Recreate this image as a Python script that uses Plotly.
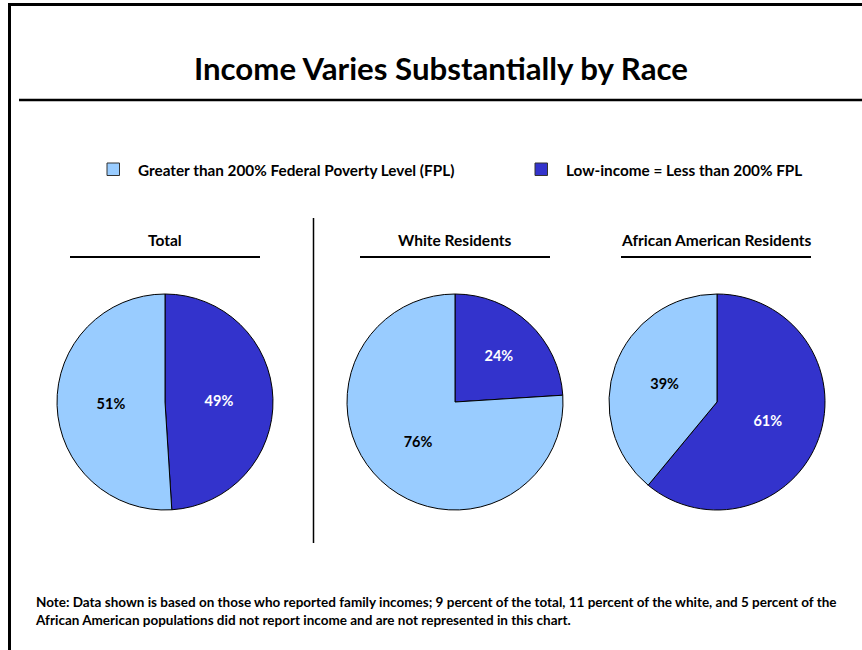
import plotly.graph_objects as go

# Share of residents by income group (percent)
groups = ["Total", "White Residents", "African American Residents"]
categories = ["Low-income = Less than 200% FPL", "Greater than 200% Federal Poverty Level (FPL)"]
low_income = [49, 24, 61]
above_200 = [51, 76, 39]

colors = ["#3333CC", "#99CCFF"]
text_colors = ["white", "black"]
FONT = "Lato"

W, H = 862, 650
centers_x = [165, 455, 717]
center_y = 402
radius = 108


def px_x(v):
    return v / W


def px_y(v):
    return 1 - v / H


fig = go.Figure()
for i, g in enumerate(groups):
    cx = centers_x[i]
    fig.add_trace(go.Pie(
        labels=categories,
        values=[low_income[i], above_200[i]],
        name=g,
        sort=False,
        direction="clockwise",
        rotation=0,
        marker=dict(colors=colors, line=dict(color="black", width=1)),
        texttemplate="%{value}%",
        textposition="inside",
        insidetextorientation="horizontal",
        textfont=dict(family=FONT, size=14.5, color=text_colors, weight="bold"),
        hoverinfo="label+value",
        domain=dict(x=[px_x(cx - radius), px_x(cx + radius)],
                    y=[px_y(center_y + radius), px_y(center_y - radius)]),
        showlegend=False,
    ))

shapes = [
    # frame
    dict(type="line", x0=px_x(9.5), x1=px_x(9.5), y0=px_y(3), y1=px_y(650),
         line=dict(color="black", width=3)),
    dict(type="line", x0=px_x(8), x1=1, y0=px_y(4.5), y1=px_y(4.5),
         line=dict(color="black", width=3)),
    # title rule
    dict(type="line", x0=px_x(19), x1=1, y0=px_y(100), y1=px_y(100),
         line=dict(color="black", width=2.5)),
    # divider between total and subgroups
    dict(type="line", x0=px_x(313.5), x1=px_x(313.5), y0=px_y(218), y1=px_y(543),
         line=dict(color="black", width=1.5)),
]

annotations = [
    dict(text="<b>Income Varies Substantially by Race</b>", x=px_x(441), y=px_y(68),
         xref="paper", yref="paper", showarrow=False, xanchor="center", yanchor="middle",
         font=dict(family=FONT, size=31.2, color="black")),
    dict(text="<b>Note: Data shown is based on those who reported family incomes; 9 percent of the total, "
              "11 percent of the white, and 5 percent of the<br>African American populations did not report "
              "income and are not represented in this chart.</b>",
         x=px_x(33), y=px_y(611), xref="paper", yref="paper", showarrow=False,
         xanchor="left", yanchor="middle", align="left",
         font=dict(family=FONT, size=13.5, color="black")),
]

# legend keys, ordered as in the header row
legend_items = [(categories[1], colors[1], 107), (categories[0], colors[0], 535)]
for label, col, x0 in legend_items:
    shapes.append(dict(type="rect", x0=px_x(x0), x1=px_x(x0 + 12.5),
                       y0=px_y(175.5), y1=px_y(163), fillcolor=col,
                       line=dict(color="#333333", width=1)))
    annotations.append(dict(text="<b>" + label + "</b>", x=px_x(x0 + 29), y=px_y(169.5),
                            xref="paper", yref="paper", showarrow=False,
                            xanchor="left", yanchor="middle",
                            font=dict(family=FONT, size=15.3, color="black")))

rule_spans = [(70, 260), (360, 550), (621, 811)]
for i, g in enumerate(groups):
    x0, x1 = rule_spans[i]
    annotations.append(dict(text="<b>" + g + "</b>", x=px_x((x0 + x1) / 2), y=px_y(240),
                            xref="paper", yref="paper", showarrow=False,
                            xanchor="center", yanchor="middle",
                            font=dict(family=FONT, size=15.5, color="black")))
    shapes.append(dict(type="line", x0=px_x(x0), x1=px_x(x1), y0=px_y(257), y1=px_y(257),
                       line=dict(color="black", width=2)))

fig.update_layout(
    width=W, height=H,
    margin=dict(l=0, r=0, t=0, b=0),
    paper_bgcolor="white",
    plot_bgcolor="white",
    shapes=shapes,
    annotations=annotations,
    showlegend=False,
)

fig.write_html("out.html")
